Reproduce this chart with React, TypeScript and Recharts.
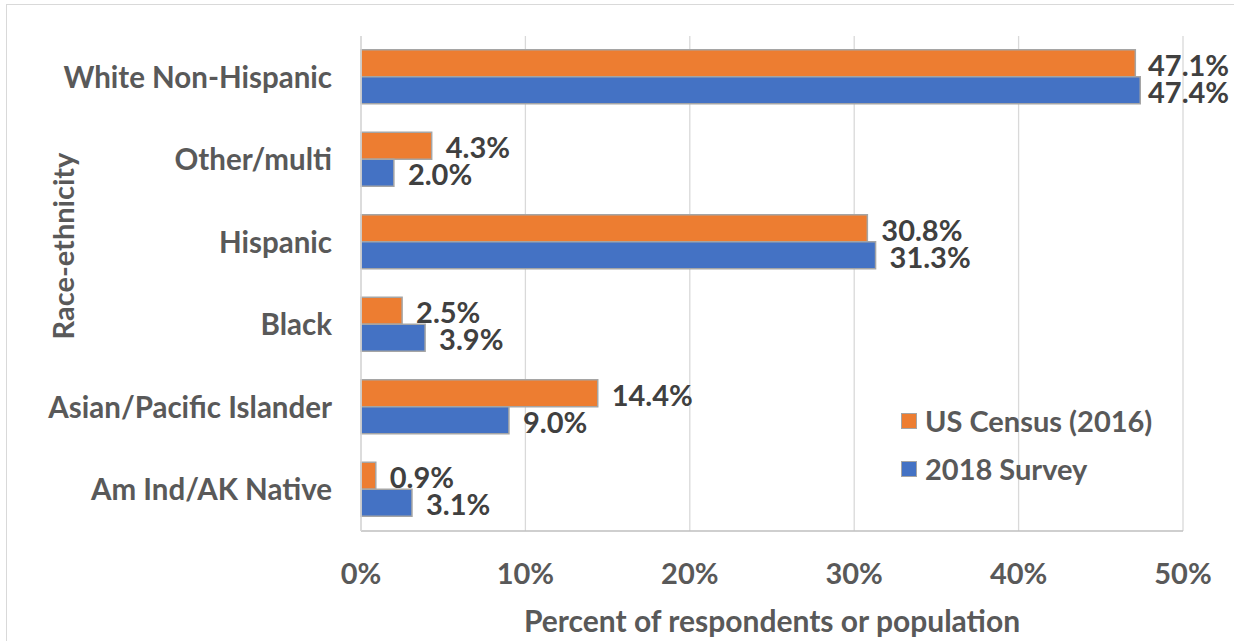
import React from 'react';
import {
  BarChart,
  Bar,
  XAxis,
  YAxis,
  CartesianGrid,
  Legend,
  LabelList,
} from 'recharts';

// Race-ethnicity categories, top to bottom
const categories = [
  'White Non-Hispanic',
  'Other/multi',
  'Hispanic',
  'Black',
  'Asian/Pacific Islander',
  'Am Ind/AK Native',
];

// Percent of population, US Census (2016)
const censusValues = [47.1, 4.3, 30.8, 2.5, 14.4, 0.9];
// Percent of respondents, 2018 Survey
const surveyValues = [47.4, 2.0, 31.3, 3.9, 9.0, 3.1];

const xTicks = [0, 10, 20, 30, 40, 50];

const seriesNames = { census: 'US Census (2016)', survey: '2018 Survey' };

const data = categories.map((name, i) => ({
  name,
  census: censusValues[i],
  survey: surveyValues[i],
}));

const FONT = 'Lato, "Open Sans", sans-serif';
const ORANGE = '#ED7D31';
const BLUE = '#4472C4';
const BAR_EDGE = '#a5a5a5';
const AXIS_TEXT = '#595959';
const LABEL_TEXT = '#404040';

const W = 1234;
const H = 641;
const LABEL_MAX_X = 1148;

const renderValueLabel = (props: any) => {
  const { x, y, width, height, value } = props;
  const tx = Math.min(Number(x) + Number(width) + 14, LABEL_MAX_X);
  return (
    <text
      x={tx}
      y={Number(y) + Number(height) / 2 + 1}
      dominantBaseline="central"
      textAnchor="start"
      fontFamily={FONT}
      fontWeight={700}
      fontSize={29}
      fill={LABEL_TEXT}
    >
      {`${Number(value).toFixed(1)}%`}
    </text>
  );
};

const renderYTitle = (props: any) => {
  const vb = props.viewBox || {};
  const cx = Number(vb.x || 0) + 62;
  const cy = 246;
  return (
    <text
      x={cx}
      y={cy}
      transform={`rotate(-90, ${cx}, ${cy})`}
      textAnchor="middle"
      dominantBaseline="central"
      fontFamily={FONT}
      fontWeight={700}
      fontSize={29}
      fill={AXIS_TEXT}
    >
      Race-ethnicity
    </text>
  );
};

const renderXTitle = (props: any) => {
  const vb = props.viewBox || {};
  const cx = Number(vb.x) + Number(vb.width) / 2;
  const cy = Number(vb.y) + 89;
  return (
    <text
      x={cx}
      y={cy}
      textAnchor="middle"
      dominantBaseline="central"
      fontFamily={FONT}
      fontWeight={700}
      fontSize={30}
      fill={AXIS_TEXT}
    >
      Percent of respondents or population
    </text>
  );
};

const renderLegend = () => {
  const rows = [
    { label: seriesNames.census, color: ORANGE },
    { label: seriesNames.survey, color: BLUE },
  ];
  return (
    <div style={{ display: 'flex', flexDirection: 'column', gap: 16 }}>
      {rows.map((r) => (
        <div
          key={r.label}
          style={{ display: 'flex', alignItems: 'center', height: 32 }}
        >
          <span
            style={{
              display: 'inline-block',
              width: 14,
              height: 14,
              background: r.color,
              border: `1.5px solid ${BAR_EDGE}`,
              marginRight: 8,
            }}
          />
          <span
            style={{
              fontFamily: FONT,
              fontWeight: 700,
              fontSize: 29,
              color: AXIS_TEXT,
              whiteSpace: 'nowrap',
              lineHeight: '32px',
            }}
          >
            {r.label}
          </span>
        </div>
      ))}
    </div>
  );
};

export default function App() {
  return (
    <div
      style={{
        position: 'fixed',
        left: 0,
        top: 0,
        width: W,
        height: H,
        overflow: 'hidden',
        background: '#ffffff',
      }}
    >
      <div
        style={{
          position: 'absolute',
          left: 6,
          top: 4,
          width: 1260,
          height: 700,
          border: '1px solid #d9d9d9',
        }}
      />
      <div style={{ position: 'absolute', left: 0, top: 0 }}>
        <BarChart
          width={W}
          height={H}
          data={data}
          layout="vertical"
          margin={{ top: 36, right: 51, bottom: 0, left: 0 }}
          barCategoryGap="16.7%"
          barGap={0}
        >
          <CartesianGrid horizontal={false} stroke="#d9d9d9" strokeWidth={1.3} />
          <XAxis
            type="number"
            domain={[0, 50]}
            ticks={xTicks}
            tickFormatter={(v: number) => `${v}%`}
            height={110}
            tickLine={false}
            tickSize={0}
            tickMargin={32}
            axisLine={{ stroke: '#bfbfbf', strokeWidth: 1.5 }}
            tick={{
              fontFamily: FONT,
              fontWeight: 700,
              fontSize: 29,
              fill: AXIS_TEXT,
            }}
            label={renderXTitle}
          />
          <XAxis
            xAxisId="top"
            orientation="top"
            type="number"
            domain={[0, 50]}
            ticks={xTicks}
            height={0}
            tick={false}
            tickLine={false}
            axisLine={{ stroke: '#a6a6a6', strokeWidth: 1.5 }}
          />
          <YAxis
            type="category"
            dataKey="name"
            width={361}
            tickLine={false}
            tickSize={0}
            tickMargin={29}
            axisLine={{ stroke: '#d9d9d9', strokeWidth: 1.5 }}
            tick={{
              fontFamily: FONT,
              fontWeight: 700,
              fontSize: 29.5,
              fill: AXIS_TEXT,
            }}
            label={renderYTitle}
          />
          <YAxis
            yAxisId="right"
            orientation="right"
            type="category"
            dataKey="name"
            width={0}
            tick={false}
            tickLine={false}
            axisLine={{ stroke: '#a6a6a6', strokeWidth: 1.5 }}
          />
          <Legend
            layout="vertical"
            align="center"
            verticalAlign="middle"
            wrapperStyle={{ left: 901, top: 405, width: 280 }}
            content={renderLegend}
          />
          <Bar
            dataKey="census"
            name={seriesNames.census}
            fill={ORANGE}
            stroke={BAR_EDGE}
            strokeWidth={1.5}
            isAnimationActive={false}
          >
            <LabelList dataKey="census" content={renderValueLabel} />
          </Bar>
          <Bar
            dataKey="survey"
            name={seriesNames.survey}
            fill={BLUE}
            stroke={BAR_EDGE}
            strokeWidth={1.5}
            isAnimationActive={false}
          >
            <LabelList dataKey="survey" content={renderValueLabel} />
          </Bar>
        </BarChart>
      </div>
    </div>
  );
}
